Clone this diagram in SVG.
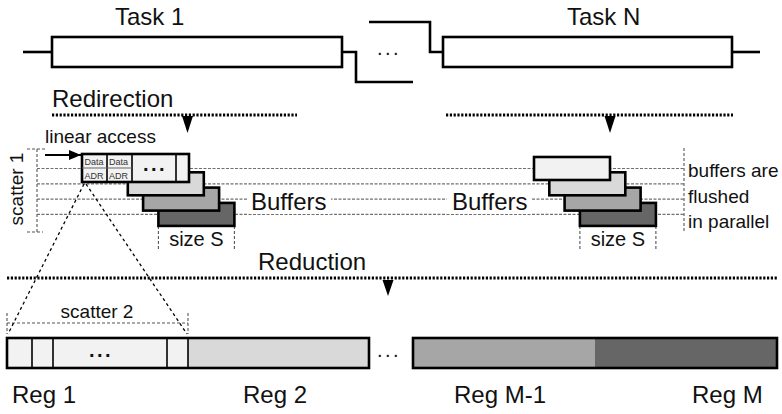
<svg xmlns="http://www.w3.org/2000/svg" width="782" height="414" viewBox="0 0 782 414">
  <style>
    text { font-family: "Liberation Sans", Arial, sans-serif; fill: #111; }
    .lbl { font-size: 24px; }
    .mid { font-size: 19px; }
    .tiny { font-size: 9px; fill: #333; }
    .dots { font-size: 20px; letter-spacing: 2.5px; }
    .wire { fill: none; stroke: #000; stroke-width: 2.6; }
    .box { stroke: #000; stroke-width: 2.6; }
    .cell { fill: none; stroke: #000; stroke-width: 1.6; }
    .guide { fill: none; stroke: #707070; stroke-width: 1.2; stroke-dasharray: 3 1.5; }
    .tick { fill: none; stroke: #555; stroke-width: 1.1; stroke-dasharray: 3 2; }
    .phase { fill: none; stroke: #000; stroke-width: 3; stroke-dasharray: 2.2 1.6; }
    .fan { fill: none; stroke: #000; stroke-width: 1.3; stroke-dasharray: 3 3; }
    .head { fill: #000; }
    .b0 { fill: #f2f2f2; }
    .b1 { fill: #d9d9d9; }
    .b2 { fill: #a6a6a6; }
    .b3 { fill: #666666; }
  </style>
  <defs>
    <marker id="arrow" viewBox="0 0 12 10" refX="12" refY="5" markerWidth="12" markerHeight="10" markerUnits="userSpaceOnUse" orient="auto">
      <path d="M0,0 L12,5 L0,10 Z" fill="#000"/>
    </marker>
  </defs>
  <rect width="782" height="414" fill="#fff"/>

  <!-- timeline of tasks -->
  <g id="task-1">
    <rect class="box" x="52" y="37" width="290" height="30" fill="#fff"/>
    <text class="lbl" x="115" y="25">Task 1</text>
  </g>
  <g id="task-n">
    <rect class="box" x="443" y="37" width="289" height="30" fill="#fff"/>
    <text class="lbl" x="567" y="25">Task N</text>
  </g>
  <g id="task-gap">
    <text class="dots" x="377" y="55">...</text>
  </g>

  <!-- guide lines through the buffer centres -->
  <g id="guides">
    <line class="guide" x1="37" y1="168.5" x2="684" y2="168.5"/>
    <line class="guide" x1="37" y1="183.8" x2="684" y2="183.8"/>
    <line class="guide" x1="37" y1="199.1" x2="684" y2="199.1"/>
    <line class="guide" x1="37" y1="214.4" x2="684" y2="214.4"/>
    <!-- scatter 1 bracket -->
    <polyline class="tick" points="27,149 37,149 37,232 27,232"/>
    <line class="tick" x1="37" y1="149" x2="45" y2="149"/>
    <line class="tick" x1="37" y1="232" x2="43" y2="232"/>
    <!-- flush bracket -->
    <line class="tick" x1="684" y1="148" x2="684" y2="233"/>
    <!-- size S ticks -->
    <line class="tick" x1="158.4" y1="226" x2="158.4" y2="250"/>
    <line class="tick" x1="234.4" y1="226" x2="234.4" y2="250"/>
    <line class="tick" x1="579.9" y1="226" x2="579.9" y2="250"/>
    <line class="tick" x1="655.9" y1="226" x2="655.9" y2="250"/>
    <!-- scatter 2 bracket -->
    <line class="tick" x1="7" y1="313" x2="7" y2="334"/>
    <line class="tick" x1="188" y1="313" x2="188" y2="334"/>
    <line class="tick" x1="7" y1="323" x2="188" y2="323"/>
  </g>

  <!-- left buffer stack -->
  <g id="buffers-left">
    <rect class="box b3" x="158.4" y="202.9" width="76" height="23"/>
    <rect class="box b2" x="143.1" y="187.6" width="76" height="23"/>
    <rect class="box b1" x="127.8" y="172.3" width="76" height="23"/>
    <rect class="box b0" x="82" y="154" width="107" height="28"/>
    <line class="cell" x1="107" y1="154" x2="107" y2="182"/>
    <line class="cell" x1="132" y1="154" x2="132" y2="182"/>
    <line class="cell" x1="176" y1="154" x2="176" y2="182"/>
    <line x1="82" y1="168" x2="132" y2="168" stroke="#666" stroke-width="1"/>
    <text class="tiny" x="84.5" y="165">Data</text>
    <text class="tiny" x="109" y="165">Data</text>
    <text class="tiny" x="84.5" y="179">ADR</text>
    <text class="tiny" x="109" y="179">ADR</text>
    <text class="dots" x="143" y="171" font-weight="bold" letter-spacing="3">...</text>
    <rect x="247" y="190" width="84" height="24" fill="#fff"/>
    <text class="lbl" x="251" y="210" font-size="23">Buffers</text>
    <text x="196.4" y="246" font-size="20" text-anchor="middle">size S</text>
  </g>

  <!-- right buffer stack -->
  <g id="buffers-right">
    <rect class="box b3" x="579.9" y="202.9" width="76" height="23"/>
    <rect class="box b2" x="564.6" y="187.6" width="76" height="23"/>
    <rect class="box b1" x="549.3" y="172.3" width="76" height="23"/>
    <rect class="box b0" x="534" y="157" width="76" height="23"/>
    <rect x="447" y="190" width="84" height="24" fill="#fff"/>
    <text class="lbl" x="452" y="210" font-size="23">Buffers</text>
    <text x="617.9" y="246" font-size="20" text-anchor="middle">size S</text>
  </g>

  <g id="flush-note">
    <text class="mid" x="688" y="177">buffers are</text>
    <text class="mid" x="688" y="203">flushed</text>
    <text class="mid" x="688" y="228">in parallel</text>
  </g>

  <g id="scatter-labels">
    <text class="mid" transform="translate(23,189) rotate(-90)" text-anchor="middle">scatter 1</text>
    <text class="mid" x="97" y="318" text-anchor="middle">scatter 2</text>
    <text class="mid" x="45" y="143">linear access</text>
  </g>

  <!-- memory regions -->
  <g id="regions-1-2">
    <rect class="b0" x="7" y="338" width="181" height="30"/>
    <rect class="b1" x="188" y="338" width="181" height="30"/>
    <line class="cell" x1="32" y1="338" x2="32" y2="368"/>
    <line class="cell" x1="53" y1="338" x2="53" y2="368"/>
    <line class="cell" x1="167" y1="338" x2="167" y2="368"/>
    <line class="cell" x1="188" y1="338" x2="188" y2="368"/>
    <rect class="box" x="7" y="338" width="362" height="30" fill="none"/>
    <text class="dots" x="89" y="357" font-weight="bold" letter-spacing="3">...</text>
    <text class="lbl" x="12" y="403">Reg 1</text>
    <text class="lbl" x="243" y="403">Reg 2</text>
  </g>
  <g id="regions-gap">
    <text class="dots" x="377" y="357">...</text>
  </g>
  <g id="regions-m">
    <rect class="b2" x="413" y="338" width="182" height="30"/>
    <rect class="b3" x="595" y="338" width="182" height="30"/>
    <rect class="box" x="413" y="338" width="364" height="30" fill="none"/>
    <text class="lbl" x="454" y="403">Reg M-1</text>
    <text class="lbl" x="692" y="403">Reg M</text>
  </g>

  <g id="phase-labels">
    <text class="lbl" x="52" y="107" font-size="23">Redirection</text>
    <text class="lbl" x="258" y="270" font-size="23">Reduction</text>
  </g>

  <g id="connectors">
    <!-- task timeline wires -->
    <polyline class="wire" points="23,52 52,52"/>
    <polyline class="wire" points="342,52 356,52 356,82 413,82"/>
    <polyline class="wire" points="369,22 430,22 430,52 443,52"/>
    <polyline class="wire" points="732,52 760,52"/>
    <!-- redirection / reduction phases -->
    <line class="phase" x1="52" y1="115" x2="297" y2="115"/>
    <line class="phase" x1="446" y1="115" x2="733" y2="115"/>
    <line class="phase" x1="7" y1="278" x2="777" y2="278"/>
    <polygon class="head" points="182,116 193,116 187.5,133"/>
    <polygon class="head" points="604.5,116 615.5,116 610,133"/>
    <polygon class="head" points="382.5,280 393.5,280 388,296"/>
    <!-- linear access arrow -->
    <line x1="45" y1="155" x2="81" y2="155" stroke="#000" stroke-width="2" marker-end="url(#arrow)"/>
    <!-- scatter fan-out -->
    <line class="fan" x1="84" y1="184" x2="8" y2="334"/>
    <line class="fan" x1="86" y1="184" x2="187" y2="334"/>
  </g>
</svg>
